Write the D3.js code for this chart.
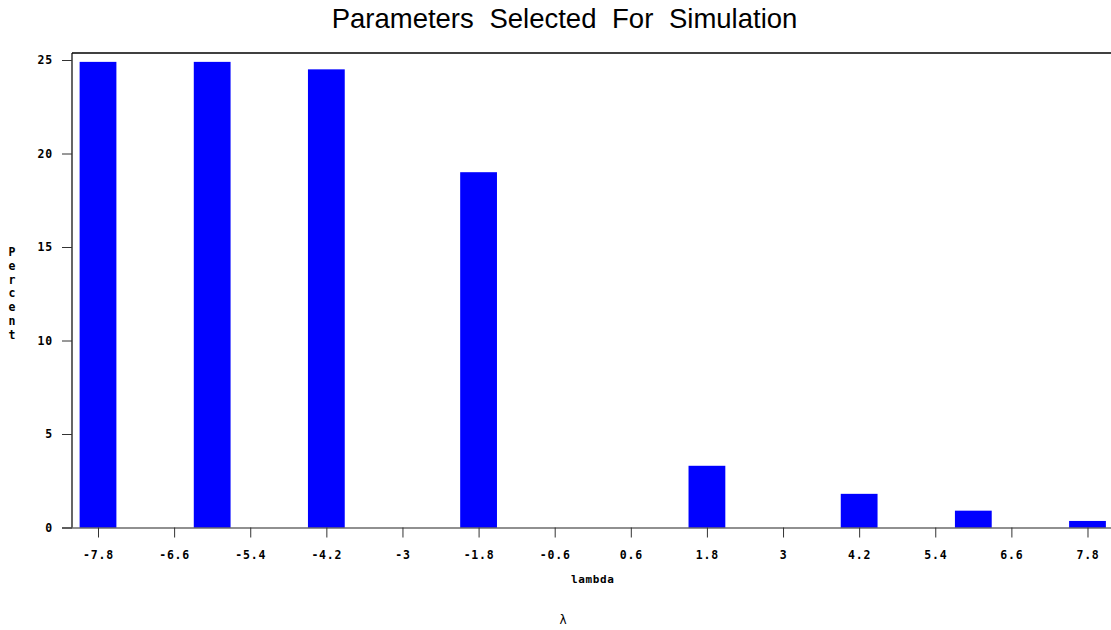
<!DOCTYPE html>
<html>
<head>
<meta charset="utf-8">
<script src="https://cdn.jsdelivr.net/npm/d3@7/dist/d3.min.js"></script>
<style>
  html, body { margin: 0; padding: 0; background: #fff; }
  svg { display: block; }
  .tick text { font-family: "DejaVu Sans Mono", monospace; font-weight: bold; font-size: 11.5px; fill: #000; letter-spacing: 0.8px; }
</style>
</head>
<body>
<script>
// Histogram of the lambda values chosen for the simulation runs
const lambdaValues = [-7.8, -6.0, -4.2, -1.8, 1.8, 4.2, 6.0, 7.8];
const percentValues = [24.9, 24.9, 24.5, 19.0, 3.3, 1.8, 0.9, 0.35];
const xTickValues = [-7.8, -6.6, -5.4, -4.2, -3, -1.8, -0.6, 0.6, 1.8, 3, 4.2, 5.4, 6.6, 7.8];
const yTickValues = [0, 5, 10, 15, 20, 25];
const barHalfWidth = 0.29;

const W = 1111, H = 630;
const svg = d3.select("body").append("svg").attr("width", W).attr("height", H);

const plotLeft = 72, plotRight = 1113.5, plotTop = 53, plotBottom = 527.5;
const x = d3.scaleLinear().domain([-8.21, 8.21]).range([plotLeft, plotRight]);
const y = d3.scaleLinear().domain([0, 25]).range([plotBottom, 60]);

// title
svg.append("text")
  .attr("x", 564.5).attr("y", 28)
  .attr("text-anchor", "middle")
  .style("font-family", "Liberation Sans, Arial, sans-serif")
  .style("font-size", "27.5px")
  .style("word-spacing", "8px")
  .text("Parameters Selected For Simulation");

// bars
svg.append("g").selectAll("rect")
  .data(lambdaValues.map((v, i) => ({ v, p: percentValues[i] })))
  .join("rect")
  .attr("x", d => x(d.v - barHalfWidth))
  .attr("width", d => x(d.v + barHalfWidth) - x(d.v - barHalfWidth))
  .attr("y", d => y(d.p))
  .attr("height", d => y(0) - y(d.p))
  .attr("fill", "#0000ff");

// frame: left and top edges
svg.append("line").attr("x1", plotLeft).attr("x2", plotLeft).attr("y1", plotTop).attr("y2", plotBottom)
  .attr("stroke", "#000").attr("stroke-width", 1.2);
svg.append("line").attr("x1", plotLeft).attr("x2", plotRight).attr("y1", plotTop).attr("y2", plotTop)
  .attr("stroke", "#000").attr("stroke-width", 1.4);

// y axis
const yAxis = svg.append("g").attr("transform", `translate(${plotLeft},0)`)
  .call(d3.axisLeft(y).tickValues(yTickValues).tickSize(10).tickPadding(9).tickFormat(d3.format("d")));
yAxis.select(".domain").remove();
yAxis.selectAll(".tick line").attr("stroke", "#333");

// x axis
const xAxis = svg.append("g").attr("transform", `translate(0,${plotBottom})`)
  .call(d3.axisBottom(x).tickValues(xTickValues).tickSize(10).tickFormat(d => String(d)));
xAxis.select(".domain").attr("d", `M${plotLeft - 10},0.5H${plotRight}`).attr("stroke", "#222").attr("stroke-width", 1.2);
xAxis.selectAll(".tick line").attr("stroke", "#333");
xAxis.selectAll(".tick text").attr("y", 31).attr("dy", 0);

// axis titles
svg.append("text")
  .attr("x", (plotLeft + plotRight) / 2).attr("y", 583)
  .attr("text-anchor", "middle")
  .style("font-family", "DejaVu Sans Mono, monospace")
  .style("font-weight", "bold").style("font-size", "11px")
  .style("letter-spacing", "0.6px")
  .text("lambda");

const yTitle = "Percent".split("");
svg.append("g").selectAll("text")
  .data(yTitle)
  .join("text")
  .attr("x", 12).attr("y", (d, i) => 256 + i * 13.8)
  .attr("text-anchor", "middle")
  .style("font-family", "DejaVu Sans Mono, monospace")
  .style("font-weight", "bold").style("font-size", "11.5px")
  .text(d => d);

// footnote symbol
svg.append("text")
  .attr("x", 563).attr("y", 624)
  .attr("text-anchor", "middle")
  .style("font-family", "DejaVu Sans, sans-serif")
  .style("font-size", "12px")
  .text("λ");
</script>
</body>
</html>
